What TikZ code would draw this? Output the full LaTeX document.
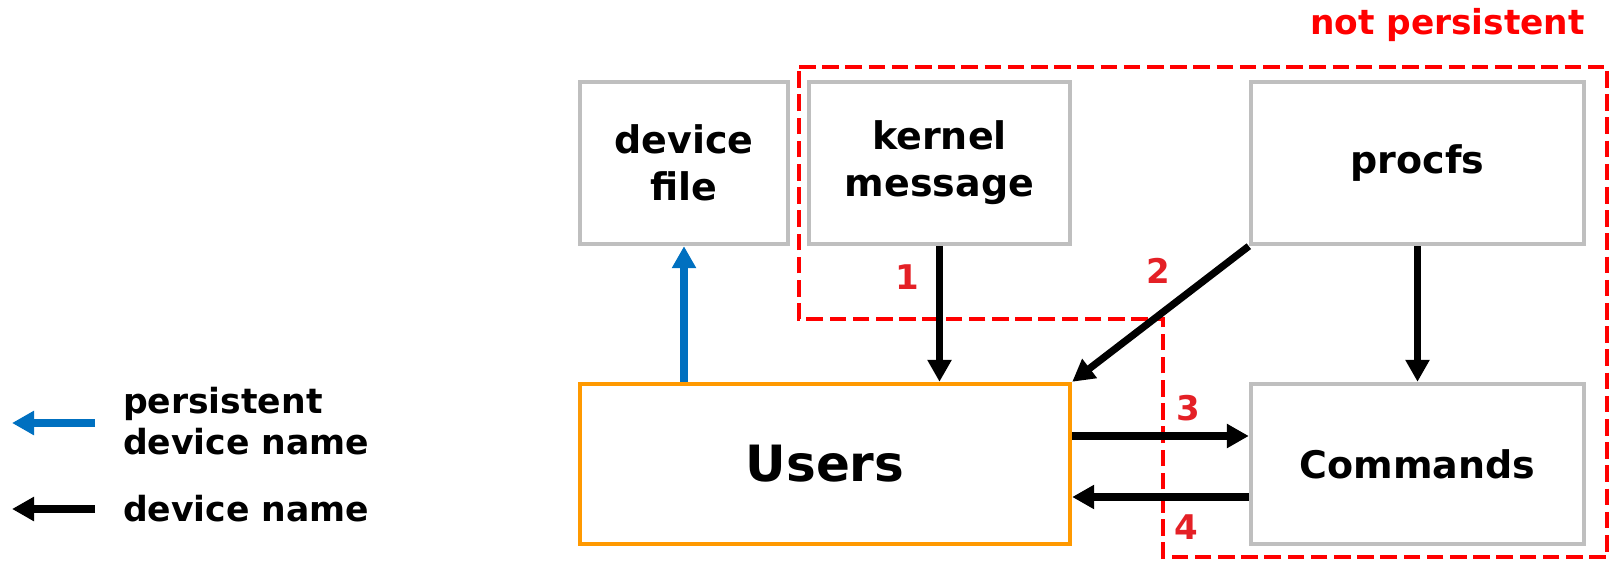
\documentclass[tikz,border=0pt]{standalone}
\usepackage{fontspec}
\setmainfont{DejaVu Sans}
\usepackage{tikz}
\usetikzlibrary{arrows.meta,positioning}
\definecolor{boxgray}{RGB}{191,191,191}
\definecolor{userorange}{RGB}{255,153,0}
\definecolor{pnblue}{RGB}{0,112,192}
\definecolor{npred}{RGB}{255,0,0}
\definecolor{numred}{RGB}{228,32,38}
\tikzset{
  box/.style={draw=boxgray, line width=2.2pt, fill=white, align=center, inner sep=0pt,
    font=\bfseries\fontsize{19}{23.5}\selectfont},
  namearrow/.style={line width=3.6pt, -{Triangle[length=11pt,width=11.5pt]}},
  numlabel/.style={text=numred, font=\bfseries\fontsize{17}{20}\selectfont},
  legendtext/.style={anchor=west, align=left, font=\bfseries\fontsize{17.3}{20.5}\selectfont}
}

\begin{document}
\begin{tikzpicture}[x=0.5pt, y=-0.5pt]
\useasboundingbox (0,0) rectangle (1610,561);

% not persistent region
\draw[npred, line width=2.4pt, dash pattern=on 8.3pt off 3.3pt]
  (799,67) -- (1607,67) -- (1607,557) -- (1163,557) -- (1163,319) -- (799,319) -- cycle;
\node[anchor=east, text=npred, font=\bfseries\fontsize{17.2}{20}\selectfont] (notpers) at (1592,25) {not persistent};

% boxes
\node[box, minimum width=104pt, minimum height=81pt] (devfile) at (684,163) {device\\file};
\node[box, minimum width=130.5pt, minimum height=81pt] (kernel) at (939.5,163) {kernel\\message};
\node[box, minimum width=166.5pt, minimum height=81pt] (procfs) at (1417.5,163) {procfs};
\node[box, draw=userorange, minimum width=245pt, minimum height=80pt,
  font=\bfseries\fontsize{25}{30}\selectfont] (users) at (825,464) {Users};
\node[box, minimum width=166.5pt, minimum height=80pt] (cmds) at (1417.5,464) {Commands};

% connectors
\draw[namearrow, pnblue] (devfile.south |- users.north) -- (devfile.south);
\draw[namearrow] (kernel.south) -- (kernel.south |- users.north);
\draw[namearrow] (procfs.south west) -- (users.north east);
\draw[namearrow] (procfs.south) -- (cmds.north);
\draw[namearrow] ([yshift=14pt]users.east) -- ([yshift=14pt]cmds.west);
\draw[namearrow] ([yshift=-16.5pt]cmds.west) -- ([yshift=-16.5pt]users.east);

\node[numlabel] (n1) at (907,277) {1};
\node[numlabel] (n2) at (1158,271) {2};
\node[numlabel] (n3) at (1188,408) {3};
\node[numlabel] (n4) at (1186,527) {4};

% legend
\node[legendtext] (lgpers) at (116,421) {persistent\\device name};
\node[legendtext] (lgname) at (116,509) {device name};
\coordinate (lgpA) at (95,423);
\coordinate (lgnA) at (95,509);
\draw[namearrow, pnblue] (lgpA) -- (12,423);
\draw[namearrow] (lgnA) -- (12,509);
\end{tikzpicture}
\end{document}
